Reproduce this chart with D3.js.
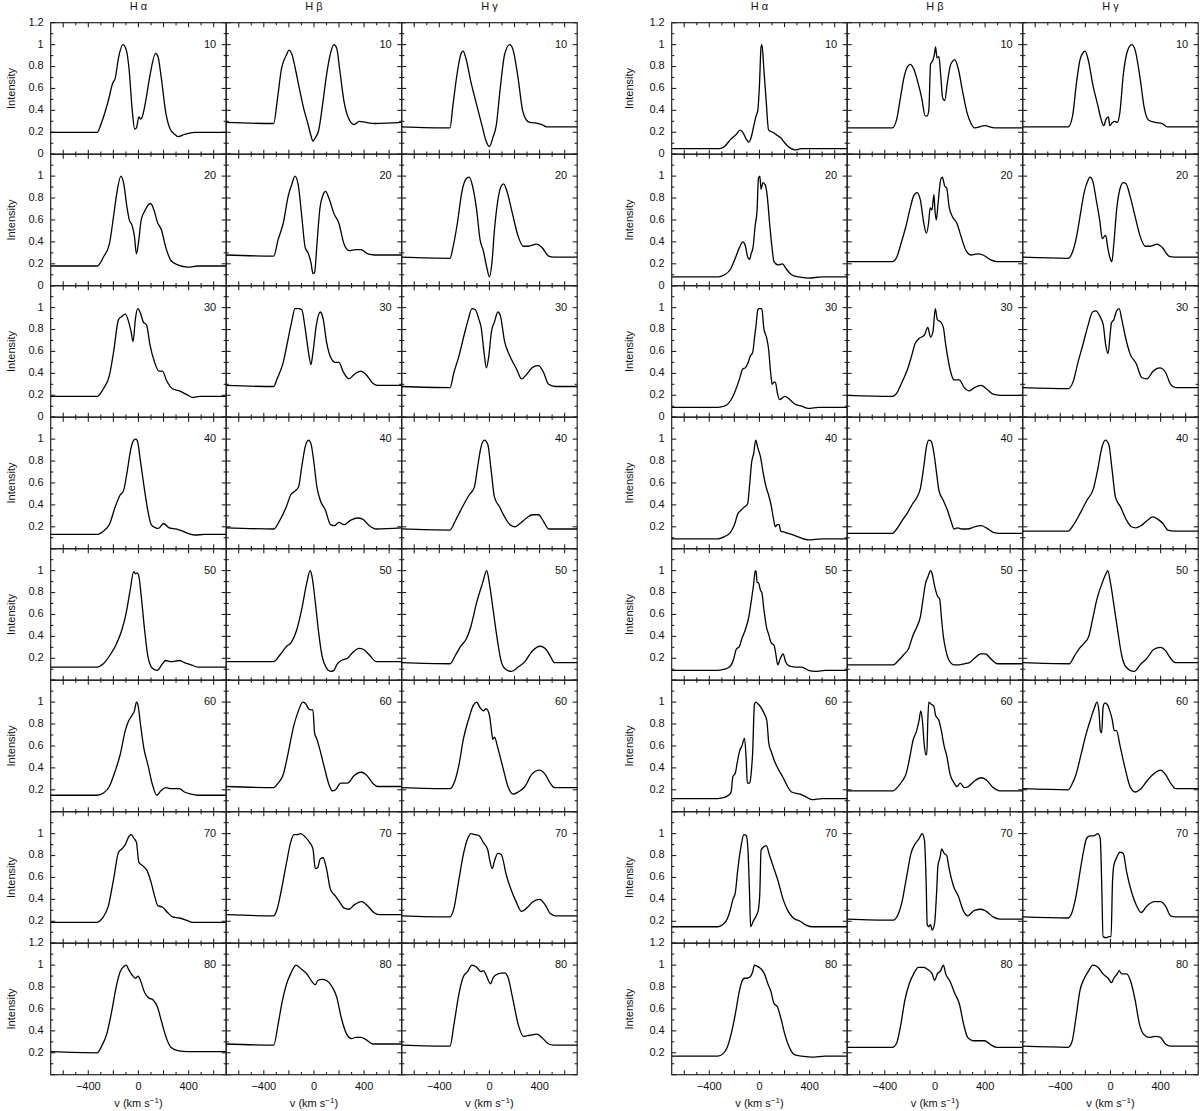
<!DOCTYPE html>
<html>
<head>
<meta charset="utf-8">
<script src="https://cdn.jsdelivr.net/npm/d3@7"></script>
<style>
  body { margin: 0; background: #fff; }
  svg { display: block; font-family: "Liberation Sans", Arial, Helvetica, sans-serif; }
  .lbl { font-size: 11px; fill: #111; }
  .frame { fill: none; stroke: #222; stroke-width: 1.2; }
  .tick { stroke: #222; stroke-width: 1.1; }
  .profile { fill: none; stroke: #000; stroke-width: 1.3; stroke-linejoin: round; }
</style>
</head>
<body>
<svg id="chart"></svg>
<script>
// panel numbers (rows) and line names (columns)
const rowNums = [10, 20, 30, 40, 50, 60, 70, 80]
const lineNames = ['H \u03b1', 'H \u03b2', 'H \u03b3']
const xTickLabels = [-400, 0, 400]
const yLabelSets = [
  [0, 0.2, 0.4, 0.6, 0.8, 1, 1.2],
  [0, 0.2, 0.4, 0.6, 0.8, 1],
  [0, 0.2, 0.4, 0.6, 0.8, 1],
  [0.2, 0.4, 0.6, 0.8, 1],
  [0.2, 0.4, 0.6, 0.8, 1],
  [0.2, 0.4, 0.6, 0.8, 1],
  [0.2, 0.4, 0.6, 0.8, 1],
  [0.2, 0.4, 0.6, 0.8, 1, 1.2]
]

// profiles: [velocity km/s, intensity], one list per row (10..80)
const lHa = [
  [[-700,.2],[-329,.2],[-294,.29],[-240,.49],[-205,.65],[-186,.69],[-159,.88],[-124,1],[-97,.95],[-75,.78],[-51,.42],[-30,.23],[-16,.24],[3,.34],[16,.32],[30,.34],[57,.48],[92,.72],[137,.92],[156,.89],[183,.69],[218,.38],[253,.23],[291,.18],[318,.16],[367,.18],[447,.2],[700,.2]],
  [[-700,.18],[-329,.18],[-280,.26],[-232,.38],[-199,.63],[-172,.85],[-140,1],[-119,.94],[-92,.72],[-73,.6],[-51,.55],[-32,.45],[-16,.29],[3,.42],[22,.6],[49,.68],[97,.75],[124,.69],[151,.58],[183,.51],[218,.35],[259,.23],[313,.19],[394,.17],[474,.18],[700,.18]],
  [[-700,.19],[-329,.19],[-280,.26],[-232,.38],[-199,.59],[-159,.89],[-132,.92],[-105,.94],[-78,.87],[-59,.78],[-43,.69],[-24,.9],[-5,.99],[16,.95],[38,.87],[65,.84],[92,.66],[129,.5],[164,.42],[191,.42],[226,.33],[272,.26],[326,.24],[380,.21],[434,.18],[488,.19],[700,.19]],
  [[-700,.13],[-329,.13],[-280,.16],[-232,.22],[-186,.38],[-146,.49],[-119,.53],[-92,.69],[-59,.92],[-38,.99],[-20,1],[-5,.97],[11,.84],[38,.62],[70,.38],[102,.22],[137,.19],[160,.185],[200,.23],[245,.19],[299,.18],[353,.16],[394,.14],[447,.125],[528,.13],[700,.13]],
  [[-700,.12],[-329,.12],[-280,.15],[-226,.23],[-172,.34],[-132,.46],[-97,.62],[-65,.83],[-38,.99],[-24,.97],[-11,.98],[3,.95],[22,.77],[49,.46],[75,.22],[111,.11],[151,.09],[191,.15],[218,.18],[259,.17],[326,.18],[367,.16],[420,.14],[474,.12],[700,.12]],
  [[-700,.15],[-329,.15],[-280,.17],[-232,.23],[-186,.37],[-146,.52],[-105,.74],[-78,.83],[-51,.88],[-32,.92],[-16,1],[-3,.97],[16,.8],[43,.58],[75,.43],[111,.25],[146,.15],[178,.19],[218,.22],[259,.21],[326,.21],[367,.18],[420,.16],[474,.15],[700,.15]],
  [[-700,.19],[-329,.19],[-286,.23],[-240,.34],[-199,.58],[-159,.83],[-132,.86],[-105,.9],[-78,.97],[-57,.99],[-38,.96],[-16,.92],[3,.74],[30,.71],[70,.66],[102,.55],[129,.43],[156,.34],[191,.33],[232,.28],[272,.24],[326,.23],[380,.21],[434,.19],[700,.19]],
  [[-700,.21],[-329,.2],[-294,.26],[-253,.37],[-213,.58],[-178,.8],[-146,.94],[-113,.99],[-97,1],[-78,.96],[-51,.91],[-24,.88],[-3,.9],[16,.86],[49,.75],[84,.7],[119,.68],[151,.62],[183,.49],[218,.35],[259,.25],[313,.22],[394,.21],[700,.21]]
]
const lHb = [
  [[-700,.29],[-321,.28],[-294,.48],[-259,.78],[-218,.91],[-199,.95],[-178,.92],[-143,.75],[-111,.57],[-78,.4],[-51,.29],[-24,.17],[-8,.12],[11,.15],[38,.22],[65,.42],[100,.72],[132,.92],[159,1],[181,.97],[208,.75],[240,.48],[272,.34],[321,.27],[361,.3],[415,.29],[482,.28],[700,.29]],
  [[-700,.28],[-321,.27],[-286,.42],[-245,.57],[-205,.82],[-178,.92],[-151,1],[-124,.91],[-97,.63],[-70,.35],[-43,.29],[-22,.2],[-8,.11],[5,.12],[24,.38],[46,.69],[73,.83],[92,.86],[119,.8],[159,.66],[199,.57],[240,.38],[280,.32],[334,.33],[375,.33],[429,.29],[482,.28],[700,.28]],
  [[-700,.29],[-321,.28],[-294,.35],[-245,.5],[-205,.72],[-178,.87],[-151,.99],[-124,.99],[-97,.98],[-70,.81],[-43,.59],[-24,.48],[-8,.59],[19,.84],[51,.96],[73,.9],[100,.69],[132,.55],[172,.5],[199,.5],[235,.41],[280,.35],[321,.39],[375,.42],[415,.39],[469,.31],[509,.29],[700,.29]],
  [[-700,.19],[-321,.18],[-272,.26],[-218,.39],[-186,.49],[-159,.52],[-124,.56],[-97,.75],[-70,.93],[-43,.99],[-22,.95],[-3,.81],[24,.56],[51,.44],[92,.35],[132,.22],[164,.21],[199,.24],[240,.22],[294,.26],[348,.28],[388,.27],[442,.21],[496,.18],[700,.19]],
  [[-700,.17],[-321,.17],[-272,.23],[-218,.31],[-178,.35],[-137,.46],[-97,.65],[-57,.89],[-30,1],[-16,.95],[11,.71],[38,.43],[65,.22],[100,.11],[132,.08],[159,.09],[186,.15],[218,.18],[267,.2],[307,.25],[361,.29],[396,.28],[442,.23],[496,.17],[700,.17]],
  [[-700,.23],[-321,.22],[-286,.26],[-245,.34],[-205,.54],[-164,.77],[-124,.92],[-89,1],[-62,.98],[-43,.94],[-22,.93],[-8,.93],[5,.72],[24,.66],[51,.55],[84,.4],[119,.25],[146,.19],[172,.2],[213,.26],[267,.26],[321,.33],[375,.36],[415,.34],[469,.26],[509,.23],[700,.23]],
  [[-700,.26],[-321,.25],[-294,.31],[-259,.49],[-218,.74],[-186,.92],[-159,.99],[-132,.99],[-105,1],[-70,.97],[-35,.92],[-8,.86],[11,.68],[30,.69],[51,.77],[73,.78],[100,.68],[132,.49],[172,.43],[208,.37],[240,.32],[280,.31],[321,.35],[380,.38],[429,.34],[477,.28],[523,.26],[700,.26]],
  [[-700,.28],[-321,.27],[-286,.46],[-251,.68],[-218,.83],[-186,.92],[-143,1],[-97,.96],[-57,.92],[-16,.85],[11,.82],[30,.86],[65,.87],[100,.86],[146,.8],[181,.71],[218,.52],[261,.37],[299,.33],[334,.34],[375,.34],[415,.32],[469,.28],[700,.28]]
]
const lHg = [
  [[-700,.25],[-315,.24],[-291,.45],[-256,.75],[-229,.91],[-210,.94],[-189,.88],[-148,.66],[-102,.45],[-59,.26],[-27,.12],[0,.07],[27,.15],[54,.26],[86,.6],[121,.91],[162,1],[189,.95],[229,.69],[264,.4],[296,.31],[323,.29],[391,.28],[418,.27],[458,.25],[700,.25]],
  [[-700,.26],[-315,.25],[-291,.35],[-256,.57],[-221,.85],[-189,.97],[-162,.99],[-135,.91],[-102,.69],[-75,.42],[-49,.32],[-22,.17],[0,.08],[19,.2],[40,.51],[67,.78],[94,.91],[113,.93],[140,.86],[183,.66],[229,.45],[270,.36],[310,.36],[377,.38],[418,.35],[472,.27],[512,.26],[700,.26]],
  [[-700,.28],[-315,.27],[-283,.41],[-243,.56],[-202,.75],[-167,.9],[-140,.99],[-113,.98],[-86,.9],[-65,.81],[-43,.59],[-24,.45],[-5,.56],[16,.78],[40,.87],[67,.96],[86,.93],[121,.69],[162,.56],[216,.44],[256,.35],[296,.39],[350,.46],[391,.47],[431,.41],[472,.3],[526,.28],[700,.28]],
  [[-700,.18],[-315,.17],[-270,.26],[-216,.38],[-162,.49],[-121,.56],[-94,.75],[-67,.93],[-40,.99],[-13,.95],[13,.72],[40,.47],[81,.38],[121,.29],[162,.22],[202,.2],[243,.23],[296,.28],[345,.31],[391,.31],[431,.25],[472,.18],[512,.18],[700,.18]],
  [[-700,.16],[-315,.15],[-270,.23],[-229,.31],[-183,.38],[-148,.49],[-102,.71],[-54,.89],[-22,1],[0,.88],[32,.62],[67,.34],[94,.17],[129,.1],[175,.08],[229,.12],[283,.17],[337,.26],[404,.31],[445,.29],[485,.22],[518,.16],[700,.16]],
  [[-700,.22],[-315,.21],[-283,.26],[-243,.43],[-210,.65],[-162,.86],[-129,.97],[-102,1],[-75,.95],[-49,.92],[-27,.94],[0,.88],[13,.77],[27,.66],[40,.68],[67,.58],[108,.4],[148,.23],[189,.16],[229,.18],[283,.23],[337,.34],[399,.38],[445,.34],[485,.26],[518,.22],[700,.22]],
  [[-700,.25],[-315,.24],[-283,.32],[-248,.55],[-210,.8],[-175,.95],[-148,1],[-113,.99],[-81,.98],[-49,.92],[-13,.85],[0,.77],[22,.68],[40,.75],[67,.82],[94,.81],[135,.62],[175,.48],[216,.37],[256,.29],[296,.32],[350,.38],[399,.4],[445,.35],[485,.27],[526,.25],[700,.25]],
  [[-700,.27],[-315,.26],[-283,.46],[-243,.74],[-210,.89],[-175,.94],[-140,1],[-102,.98],[-67,.94],[-49,.95],[-27,.91],[8,.83],[32,.89],[67,.92],[121,.93],[148,.89],[183,.71],[229,.46],[270,.35],[323,.36],[377,.37],[418,.34],[472,.28],[512,.27],[700,.27]]
]
const rHa = [
  [[-700,.05],[-318,.05],[-279,.07],[-226,.14],[-186,.18],[-154,.22],[-133,.2],[-106,.14],[-85,.11],[-67,.15],[-45,.26],[-27,.35],[-13,.4],[0,.63],[13,.98],[20,1],[35,.78],[54,.48],[73,.22],[108,.2],[143,.17],[170,.15],[197,.11],[229,.07],[283,.04],[337,.05],[418,.05],[700,.05]],
  [[-700,.08],[-332,.08],[-279,.1],[-231,.15],[-193,.25],[-159,.35],[-133,.4],[-114,.37],[-93,.26],[-78,.24],[-67,.29],[-51,.35],[-35,.54],[-19,.69],[-8,.98],[3,1],[13,.88],[27,.94],[46,.92],[62,.82],[81,.57],[100,.35],[116,.22],[148,.19],[183,.2],[216,.15],[256,.1],[310,.08],[391,.07],[499,.08],[700,.08]],
  [[-700,.09],[-332,.09],[-279,.1],[-231,.15],[-193,.24],[-159,.35],[-133,.44],[-114,.45],[-93,.49],[-72,.56],[-54,.59],[-40,.72],[-27,.84],[-13,.98],[0,.99],[19,.99],[35,.81],[56,.73],[73,.62],[89,.41],[102,.3],[116,.32],[127,.32],[143,.22],[162,.16],[202,.19],[243,.16],[283,.12],[337,.1],[391,.08],[472,.09],[700,.09]],
  [[-700,.09],[-332,.09],[-279,.11],[-231,.15],[-199,.22],[-172,.32],[-148,.35],[-121,.38],[-94,.41],[-78,.59],[-62,.79],[-46,.87],[-30,.99],[-13,.92],[8,.84],[30,.69],[54,.56],[73,.49],[94,.39],[111,.28],[127,.2],[143,.22],[156,.22],[170,.16],[202,.15],[256,.13],[324,.1],[391,.08],[499,.09],[700,.09]],
  [[-700,.09],[-332,.09],[-279,.1],[-231,.13],[-204,.2],[-186,.28],[-159,.31],[-140,.38],[-113,.46],[-86,.57],[-67,.71],[-46,.88],[-35,.99],[-27,1],[-19,.89],[-8,.89],[8,.82],[19,.8],[35,.65],[57,.48],[73,.42],[94,.34],[116,.32],[129,.25],[146,.14],[167,.2],[189,.24],[208,.17],[235,.13],[283,.12],[337,.12],[391,.09],[445,.08],[526,.09],[700,.09]],
  [[-700,.12],[-332,.12],[-279,.13],[-247,.15],[-226,.18],[-212,.32],[-193,.35],[-177,.45],[-159,.55],[-140,.6],[-119,.67],[-105,.46],[-97,.26],[-78,.26],[-67,.34],[-54,.55],[-40,.98],[-27,1],[-8,.98],[13,.95],[40,.89],[59,.83],[75,.62],[94,.55],[121,.46],[154,.38],[189,.31],[224,.23],[256,.18],[324,.16],[364,.14],[418,.11],[499,.12],[700,.12]],
  [[-700,.15],[-332,.15],[-292,.17],[-257,.22],[-231,.31],[-212,.4],[-193,.46],[-172,.68],[-146,.89],[-124,.99],[-105,.98],[-92,.86],[-80,.49],[-70,.15],[-50,.2],[-22,.26],[-8,.31],[3,.46],[13,.85],[35,.88],[54,.89],[81,.8],[116,.68],[148,.57],[189,.4],[229,.29],[270,.23],[324,.2],[364,.17],[418,.15],[700,.15]],
  [[-700,.17],[-332,.17],[-292,.19],[-257,.25],[-226,.37],[-193,.55],[-159,.77],[-140,.85],[-119,.88],[-97,.88],[-70,.9],[-54,.94],[-40,1],[-19,.99],[8,.97],[40,.92],[67,.83],[89,.77],[116,.65],[143,.62],[170,.52],[202,.37],[235,.26],[283,.18],[337,.17],[418,.16],[526,.17],[700,.17]]
]
const rHb = [
  [[-700,.24],[-340,.24],[-305,.32],[-272,.54],[-245,.71],[-218,.8],[-197,.82],[-170,.78],[-137,.66],[-105,.51],[-78,.35],[-62,.35],[-49,.4],[-35,.82],[-16,.86],[-3,.92],[5,.98],[16,.88],[32,.89],[46,.72],[62,.51],[78,.49],[100,.66],[126,.82],[159,.86],[186,.78],[221,.57],[256,.38],[288,.28],[315,.24],[396,.26],[477,.24],[700,.24]],
  [[-700,.22],[-340,.22],[-305,.26],[-272,.38],[-232,.54],[-197,.71],[-170,.82],[-143,.85],[-116,.78],[-89,.57],[-68,.48],[-51,.57],[-38,.71],[-24,.69],[-8,.83],[0,.69],[11,.6],[24,.74],[46,.97],[59,.99],[78,.91],[94,.89],[113,.72],[140,.63],[175,.57],[208,.45],[248,.32],[288,.28],[342,.29],[383,.28],[437,.24],[491,.22],[700,.22]],
  [[-700,.2],[-340,.19],[-305,.22],[-259,.33],[-218,.44],[-186,.56],[-159,.67],[-124,.72],[-84,.75],[-57,.82],[-35,.73],[-16,.78],[3,.99],[19,.89],[46,.87],[67,.82],[86,.66],[100,.56],[126,.41],[153,.34],[194,.34],[234,.27],[275,.24],[315,.27],[369,.29],[410,.26],[464,.21],[518,.2],[700,.2]],
  [[-700,.14],[-340,.14],[-305,.18],[-259,.26],[-218,.33],[-178,.41],[-143,.47],[-116,.55],[-89,.75],[-68,.93],[-49,.99],[-30,.98],[-8,.87],[13,.69],[32,.53],[67,.44],[100,.35],[126,.26],[153,.18],[181,.19],[213,.18],[261,.18],[315,.2],[369,.21],[410,.19],[464,.15],[518,.14],[700,.14]],
  [[-700,.14],[-332,.14],[-299,.17],[-251,.23],[-210,.29],[-175,.41],[-143,.49],[-116,.58],[-95,.74],[-76,.88],[-57,.94],[-35,1],[-22,.97],[-3,.86],[19,.77],[38,.74],[51,.58],[67,.4],[86,.28],[113,.18],[154,.14],[194,.14],[234,.15],[275,.16],[315,.2],[364,.24],[402,.24],[450,.19],[499,.15],[700,.15]],
  [[-700,.19],[-332,.19],[-302,.22],[-261,.28],[-229,.35],[-202,.49],[-175,.65],[-146,.74],[-127,.83],[-113,.92],[-100,.83],[-86,.62],[-73,.52],[-65,.52],[-57,.83],[-49,1],[-30,.98],[-8,.96],[5,.88],[32,.83],[51,.74],[73,.6],[94,.51],[121,.34],[154,.26],[175,.23],[202,.26],[234,.22],[267,.23],[315,.28],[369,.31],[410,.29],[464,.22],[518,.19],[700,.19]],
  [[-700,.22],[-332,.21],[-299,.25],[-264,.37],[-224,.62],[-191,.82],[-156,.91],[-129,.95],[-102,1],[-84,.94],[-70,.55],[-62,.17],[-49,.15],[-35,.17],[-22,.12],[-3,.18],[13,.46],[24,.71],[40,.78],[54,.86],[73,.82],[94,.8],[113,.68],[148,.52],[186,.43],[229,.29],[261,.25],[315,.3],[369,.31],[410,.29],[464,.24],[518,.22],[700,.22]],
  [[-700,.25],[-340,.25],[-305,.29],[-272,.46],[-240,.68],[-205,.83],[-170,.92],[-132,.98],[-89,.98],[-57,.96],[-22,.92],[-3,.86],[19,.92],[46,.95],[67,1],[86,.92],[121,.85],[159,.74],[194,.65],[229,.46],[261,.34],[302,.31],[356,.31],[396,.31],[437,.28],[491,.25],[700,.25]]
]
const rHg = [
  [[-700,.25],[-337,.25],[-302,.35],[-270,.66],[-243,.86],[-216,.93],[-203,.94],[-175,.85],[-140,.63],[-102,.45],[-75,.32],[-54,.26],[-35,.32],[-16,.34],[-5,.26],[16,.29],[35,.3],[54,.29],[75,.38],[102,.72],[135,.94],[170,1],[197,.95],[237,.69],[270,.42],[305,.31],[359,.29],[412,.28],[453,.25],[700,.25]],
  [[-700,.26],[-337,.25],[-302,.31],[-270,.45],[-243,.63],[-210,.85],[-183,.95],[-162,.99],[-140,.95],[-113,.78],[-86,.6],[-65,.43],[-49,.45],[-38,.46],[-22,.35],[-5,.26],[11,.22],[27,.38],[49,.69],[75,.88],[102,.94],[124,.93],[156,.82],[197,.63],[237,.45],[278,.36],[318,.36],[372,.38],[412,.35],[466,.27],[507,.26],[700,.26]],
  [[-700,.27],[-337,.26],[-299,.32],[-259,.5],[-218,.67],[-178,.84],[-143,.96],[-116,.97],[-84,.92],[-57,.84],[-38,.66],[-19,.58],[-3,.75],[8,.86],[27,.89],[49,.97],[70,.99],[89,.9],[116,.75],[156,.58],[205,.49],[251,.36],[291,.35],[340,.42],[394,.45],[439,.41],[480,.3],[520,.27],[700,.27]],
  [[-700,.16],[-337,.16],[-299,.21],[-243,.32],[-189,.44],[-135,.55],[-102,.72],[-67,.93],[-40,.99],[-13,.95],[13,.72],[40,.47],[81,.38],[129,.26],[167,.2],[202,.19],[243,.21],[296,.26],[337,.29],[377,.27],[418,.23],[458,.17],[512,.16],[700,.16]],
  [[-700,.16],[-329,.15],[-288,.22],[-248,.29],[-208,.34],[-173,.4],[-140,.57],[-108,.74],[-65,.89],[-32,.98],[-22,1],[0,.89],[27,.69],[62,.42],[89,.23],[124,.12],[189,.08],[237,.14],[291,.2],[345,.28],[399,.3],[439,.27],[480,.2],[520,.16],[700,.16]],
  [[-700,.21],[-337,.2],[-307,.25],[-275,.34],[-235,.52],[-194,.71],[-154,.86],[-127,.95],[-108,1],[-92,.92],[-81,.74],[-70,.72],[-59,.95],[-46,.99],[-27,.98],[-5,.92],[16,.83],[30,.74],[49,.74],[75,.61],[116,.4],[156,.23],[197,.18],[243,.21],[291,.28],[350,.35],[399,.38],[439,.34],[480,.26],[520,.21],[700,.21]],
  [[-700,.24],[-337,.23],[-307,.28],[-275,.43],[-243,.65],[-216,.83],[-189,.96],[-162,.98],[-135,.98],[-100,1],[-81,.95],[-70,.55],[-59,.06],[-32,.05],[-13,.06],[5,.06],[16,.55],[27,.71],[49,.78],[75,.83],[102,.82],[129,.65],[170,.46],[205,.35],[245,.28],[291,.34],[350,.38],[399,.38],[439,.34],[480,.25],[520,.24],[700,.24]],
  [[-700,.26],[-337,.25],[-307,.3],[-275,.52],[-243,.77],[-208,.88],[-173,.95],[-140,1],[-100,.98],[-59,.92],[-19,.88],[8,.84],[27,.88],[54,.92],[70,.95],[89,.92],[129,.92],[162,.85],[197,.68],[232,.46],[264,.37],[305,.34],[359,.35],[399,.34],[439,.28],[480,.26],[700,.26]]
]

const W = 1200, H = 1111
const gridTop = 22.7, ph = 131.5, pw = 175.5
const blocks = [
  { x: 50.7, ylab: 12, data: [lHa, lHb, lHg] },
  { x: 671.7, ylab: 630, data: [rHa, rHb, rHg] }
]

const svg = d3.select('#chart').attr('width', W).attr('height', H)

const x = d3.scaleLinear().domain([-700, 700]).range([0, pw])
const y = d3.scaleLinear().domain([0, 1.2]).range([ph, 0])

const lineGen = d3.line()
  .x(d => x(d[0]))
  .y(d => y(d[1]))
  .curve(d3.curveMonotoneX)

const yTicks = d3.range(0, 13).map(i => i / 10)
const xTicks = d3.range(-600, 601, 100)
const fmtV = v => v < 0 ? '\u2212' + Math.abs(v) : String(v)

blocks.forEach(b => {
  // column headers
  lineNames.forEach((name, c) => {
    svg.append('text')
      .attr('class', 'lbl')
      .attr('x', b.x + c * pw + pw / 2)
      .attr('y', 7)
      .attr('text-anchor', 'middle')
      .attr('dominant-baseline', 'middle')
      .text(name)
  })

  rowNums.forEach((num, r) => {
    const y0 = gridTop + r * ph

    // y tick labels
    svg.append('g')
      .selectAll('text')
      .data(yLabelSets[r])
      .enter()
      .append('text')
      .attr('class', 'lbl')
      .attr('x', b.x - 7)
      .attr('y', d => y0 + y(d))
      .attr('text-anchor', 'end')
      .attr('dominant-baseline', 'middle')
      .text(d => String(d))

    svg.append('text')
      .attr('class', 'lbl')
      .attr('transform', `translate(${b.ylab},${y0 + ph / 2}) rotate(-90)`)
      .attr('text-anchor', 'middle')
      .attr('dominant-baseline', 'middle')
      .text('Intensity')

    b.data.forEach((series, c) => {
      const g = svg.append('g')
        .attr('transform', `translate(${b.x + c * pw},${y0})`)

      // ticks on all four sides, pointing inward
      const tg = g.append('g')
      yTicks.forEach(t => {
        const len = Math.round(t * 10) % 2 === 0 ? 4.5 : 2.6
        tg.append('line').attr('class', 'tick')
          .attr('x1', 0).attr('x2', len).attr('y1', y(t)).attr('y2', y(t))
        tg.append('line').attr('class', 'tick')
          .attr('x1', pw).attr('x2', pw - len).attr('y1', y(t)).attr('y2', y(t))
      })
      xTicks.forEach(t => {
        const len = t % 200 === 0 ? 4.5 : 2.6
        tg.append('line').attr('class', 'tick')
          .attr('x1', x(t)).attr('x2', x(t)).attr('y1', 0).attr('y2', len)
        tg.append('line').attr('class', 'tick')
          .attr('x1', x(t)).attr('x2', x(t)).attr('y1', ph).attr('y2', ph - len)
      })

      g.append('rect')
        .attr('class', 'frame')
        .attr('width', pw)
        .attr('height', ph)

      g.append('path')
        .attr('class', 'profile')
        .attr('d', lineGen(series[r]))

      g.append('text')
        .attr('class', 'lbl')
        .attr('x', pw - 10)
        .attr('y', y(1))
        .attr('text-anchor', 'end')
        .attr('dominant-baseline', 'middle')
        .text(num)

      if (r === rowNums.length - 1) {
        g.selectAll('.xl')
          .data(xTickLabels)
          .enter()
          .append('text')
          .attr('class', 'lbl')
          .attr('x', d => x(d))
          .attr('y', ph + 12.5)
          .attr('text-anchor', 'middle')
          .attr('dominant-baseline', 'middle')
          .text(fmtV)

        const t = g.append('text')
          .attr('class', 'lbl')
          .attr('x', pw / 2)
          .attr('y', ph + 32)
          .attr('text-anchor', 'middle')
        t.append('tspan').text('v (km s')
        t.append('tspan').attr('dy', -4).style('font-size', '8px').text('\u22121')
        t.append('tspan').attr('dy', 4).text(')')
      }
    })
  })
})
</script>
</body>
</html>
